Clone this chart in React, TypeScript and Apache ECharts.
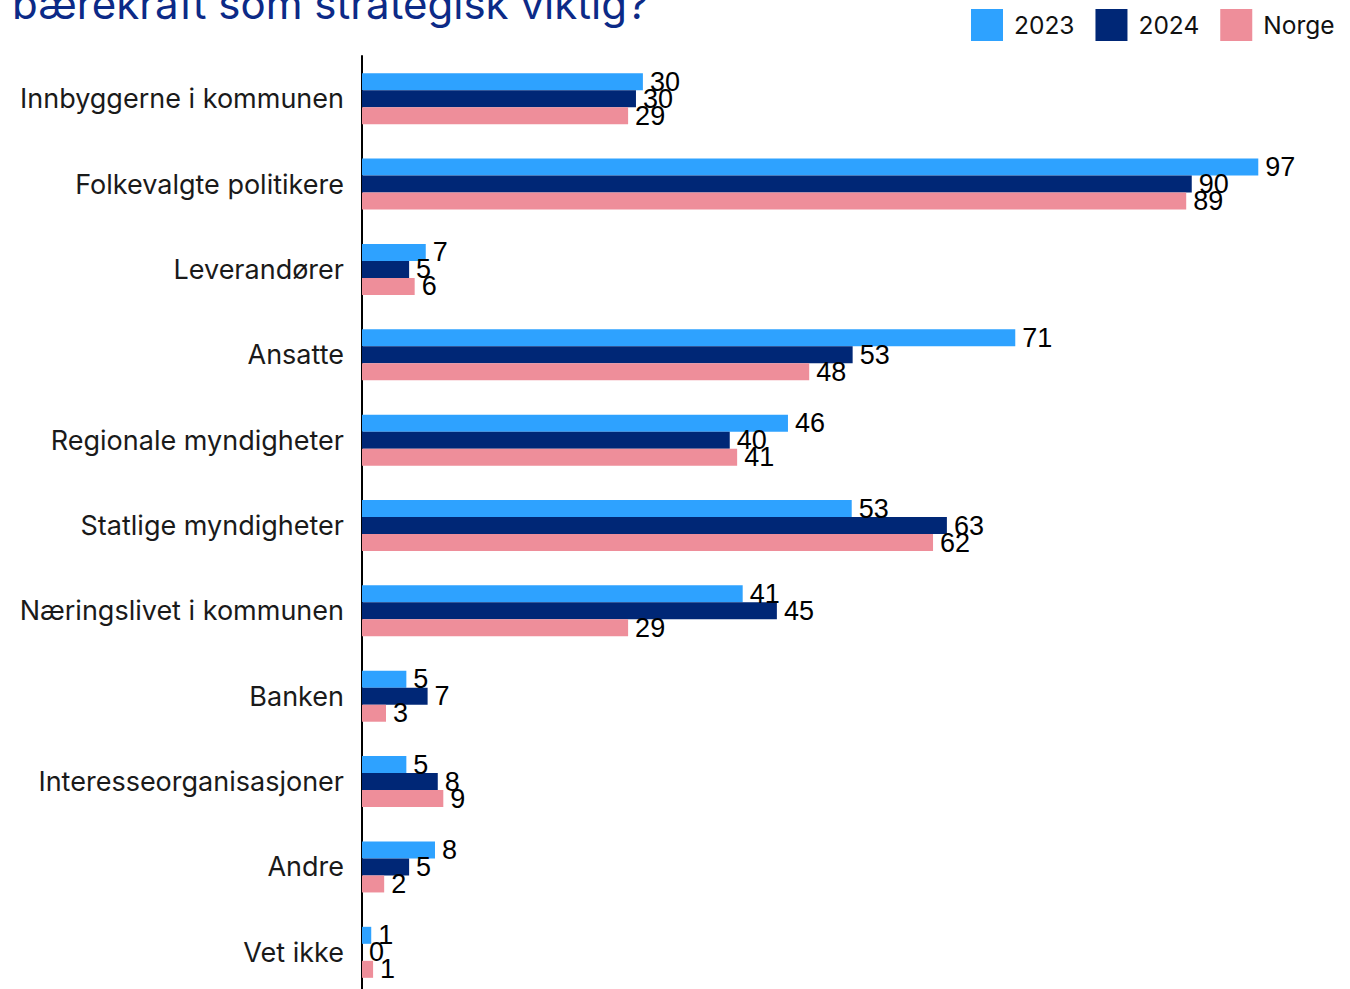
import React, { useEffect, useRef } from "react";
import * as echarts from "echarts";

const titleText = "bærekraft som strategisk viktig?";
const categories = [
  "Innbyggerne i kommunen",
  "Folkevalgte politikere",
  "Leverandører",
  "Ansatte",
  "Regionale myndigheter",
  "Statlige myndigheter",
  "Næringslivet i kommunen",
  "Banken",
  "Interesseorganisasjoner",
  "Andre",
  "Vet ikke",
];
const seriesNames = ["2023", "2024", "Norge"];
const values2023 = [30.4, 97.0, 6.9, 70.7, 46.1, 53.0, 41.2, 4.8, 4.8, 7.9, 1.0];
const values2024 = [29.65, 89.8, 5.1, 53.1, 39.8, 63.3, 44.9, 7.1, 8.2, 5.1, 0];
const valuesNorge = [28.8, 89.2, 5.7, 48.4, 40.6, 61.8, 28.8, 2.6, 8.8, 2.4, 1.2];
const colors = ["#2EA2FF", "#002776", "#EE8E9A"];

const geoFont = "Inter";
const numFont = "Liberation Sans";

export default function App() {
  const ref = useRef<HTMLDivElement>(null);
  useEffect(() => {
    document.body.style.margin = "0";
    if (!ref.current) return;
    const chart = echarts.init(ref.current, undefined, { renderer: "svg" });
    const allValues = [values2023, values2024, valuesNorge];
    chart.setOption({
      animation: false,
      backgroundColor: "#ffffff",
      color: colors,
      graphic: [
        {
          type: "text",
          left: 12,
          top: -18,
          style: {
            text: titleText,
            fontSize: 42,
            fontFamily: geoFont,
            fill: "#0c2a87",
          },
        },
      ],
      legend: {
        data: seriesNames,
        left: 971,
        top: 9,
        padding: 0,
        itemWidth: 32,
        itemHeight: 32,
        itemGap: 21,
        icon: "rect",
        textStyle: {
          fontSize: 24.5,
          fontFamily: geoFont,
          color: "#111111",
          padding: [0, 0, 0, 6],
        },
      },
      grid: {
        left: 362,
        right: 64,
        top: 56,
        bottom: 5,
        containLabel: false,
      },
      xAxis: {
        type: "value",
        min: 0,
        max: 100,
        show: false,
      },
      yAxis: {
        type: "category",
        data: categories,
        inverse: true,
        axisLine: { show: true, lineStyle: { color: "#000000", width: 2 } },
        axisTick: { show: false },
        axisLabel: {
          fontSize: 27,
          fontFamily: geoFont,
          color: "#1a1a1a",
          margin: 18,
        },
      },
      series: seriesNames.map((name, i) => ({
        name,
        type: "bar",
        data: allValues[i],
        barWidth: 17,
        barGap: "0%",
        itemStyle: { color: colors[i] },
        label: {
          show: true,
          position: "right",
          distance: 7,
          fontSize: 27,
          fontFamily: numFont,
          color: "#000000",
          formatter: (p: any) => String(Math.round(p.value)),
        },
      })),
    });
    return () => chart.dispose();
  }, []);
  return (
    <div
      ref={ref}
      style={{ position: "fixed", left: 0, top: 0, width: 1350, height: 1000 }}
    />
  );
}
